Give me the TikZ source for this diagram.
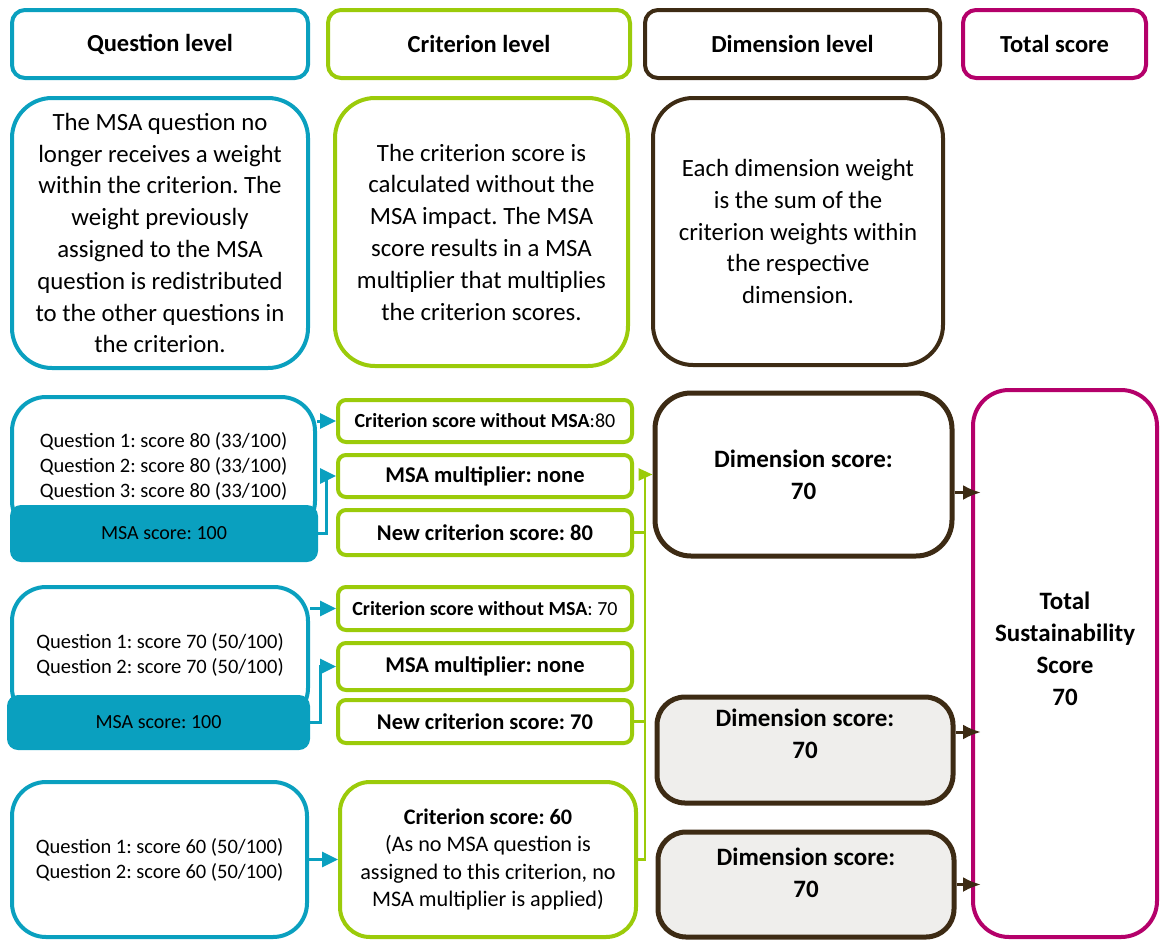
\documentclass[tikz,border=0pt]{standalone}
\usepackage{fontspec}
\setmainfont{Carlito}
\frenchspacing
\usetikzlibrary{arrows.meta, calc}
\definecolor{qcyan}{HTML}{0AA0BF}
\definecolor{cgreen}{HTML}{9BCB0A}
\definecolor{dbrown}{HTML}{3D2B14}
\definecolor{tmagenta}{HTML}{B4006A}
\definecolor{dgray}{HTML}{EFEEEC}

\tikzset{
    head/.style={draw, line width=4pt, rounded corners=13pt, minimum height=68pt,
        font=\fontsize{24.5}{28}\selectfont\bfseries},
    desc/.style={draw, line width=4pt, rounded corners=40pt, align=center,
        font=\fontsize{24.8}{31.8}\selectfont},
    qbox/.style={draw=qcyan, line width=4pt, rounded corners=34pt, align=center,
        font=\fontsize{20.5}{25}\selectfont},
    msabox/.style={fill=qcyan, rounded corners=11pt, font=\fontsize{20}{25}\selectfont},
    cbox/.style={draw=cgreen, line width=4pt, rounded corners=8pt, minimum width=294pt,
        font=\fontsize{22.5}{25}\selectfont\bfseries},
    dbox/.style={draw=dbrown, line width=5pt, rounded corners=28pt},
    dtext/.style={align=center, font=\fontsize{25}{32}\selectfont\bfseries},
    carrow/.style={qcyan, line width=3pt, -{Triangle[length=16pt, width=15pt]}},
    gline/.style={cgreen, line width=2.5pt},
    darrow/.style={dbrown, line width=3pt, -{Latex[length=18pt, width=15pt]}, shorten >=-10pt},
}

\begin{document}
\begin{tikzpicture}[x=1pt, y=-1pt]

    \useasboundingbox (0, 0) rectangle (1162, 940);

    \node[head, draw=qcyan, minimum width=296pt] (qh) at (160, 44) {Question level};
    \node[head, draw=cgreen, minimum width=302pt] (ch) at (479, 44) {Criterion level};
    \node[head, draw=dbrown, minimum width=295pt] (dh) at (792.5, 44) {Dimension level};
    \node[head, draw=tmagenta, minimum width=183pt] (th) at (1054.5, 44) {Total score};

    \node[desc, draw=qcyan, minimum width=296pt, minimum height=270pt] (qd) at (160, 233)
        {The MSA question no\\longer receives a weight\\within the criterion. The\\weight previously\\assigned to the MSA\\question is redistributed\\to the other questions in\\the criterion.};
    \node[desc, draw=cgreen, minimum width=293pt, minimum height=268pt] (cd) at (481.5, 232)
        {The criterion score is\\calculated without the\\MSA impact. The MSA\\score results in a MSA\\multiplier that multiplies\\the criterion scores.};
    \node[desc, draw=dbrown, minimum width=290pt, minimum height=267pt] (dd) at (798, 231.5)
        {Each dimension weight\\is the sum of the\\criterion weights within\\the respective\\dimension.};

    \node[qbox, minimum width=303pt, minimum height=138pt] (q1) at (163.5, 466)
        {Question 1: score 80 (33/100)\\Question 2: score 80 (33/100)\\Question 3: score 80 (33/100)};
    \node[msabox, minimum width=308pt, minimum height=57pt] (msa1) at (164, 533.5) {MSA score: 100};

    \node[qbox, minimum width=296pt, minimum height=135pt] (q2) at (160, 654.5)
        {Question 1: score 70 (50/100)\\Question 2: score 70 (50/100)};
    \node[msabox, minimum width=303pt, minimum height=55pt] (msa2) at (158.5, 722.5) {MSA score: 100};

    \node[qbox, minimum width=295pt, minimum height=155pt] (q3) at (159.5, 859.5)
        {Question 1: score 60 (50/100)\\Question 2: score 60 (50/100)};

    \node[cbox, minimum height=42pt] (w1) at (485, 421)
        {\fontsize{20}{25}\selectfont Criterion score without MSA\mdseries:80};
    \node[cbox, minimum height=42pt] (m1) at (485, 476) {MSA multiplier: none};
    \node[cbox, minimum height=45pt] (n1) at (485, 532.5) {New criterion score: 80};

    \node[cbox, minimum height=43pt] (w2) at (485, 608.5)
        {\fontsize{20}{25}\selectfont Criterion score without MSA\mdseries: 70};
    \node[cbox, minimum height=47pt] (m2) at (485, 666.5) {MSA multiplier: none};
    \node[cbox, minimum height=43pt] (n2) at (485, 721.5) {New criterion score: 70};

    \node[cbox, rounded corners=30pt, minimum width=296pt, minimum height=155pt, align=center,
        font=\fontsize{22.2}{27.5}\selectfont] (c3) at (488, 859.5)
        {\textbf{Criterion score: 60}\\(As no MSA question is\\assigned to this criterion, no\\MSA multiplier is applied)};

    \node[dbox, rounded corners=36pt, minimum width=297pt, minimum height=163pt] (dim1) at (803.5, 474.5) {};
    \node[dtext] (dim1t) at (dim1.center) {Dimension score:\\70};
    \node[dbox, fill=dgray, minimum width=296pt, minimum height=106pt] (dim2) at (805, 750) {};
    \node[dtext] (dim2t) at ([yshift=16pt]dim2.center) {Dimension score:\\70};
    \node[dbox, fill=dgray, minimum width=296pt, minimum height=105pt] (dim3) at (806, 884.5) {};
    \node[dtext] (dim3t) at ([yshift=12pt]dim3.center) {Dimension score:\\70};

    \node[draw=tmagenta, line width=4pt, rounded corners=36pt, minimum width=184pt,
        minimum height=547pt] (tot) at (1065, 663.5) {};
    \node[dtext] (tott) at ([yshift=15pt]tot.center) {Total\\Sustainability\\Score\\70};

    \draw[carrow] (w1.west -| q1.east) -- (w1.west);
    \draw[carrow] (msa1.east) -- ++(8, 0) |- (m1.west);
    \draw[carrow] (w2.west -| q2.east) -- (w2.west);
    \draw[carrow] (msa2.east) -- ++(10, 0) |- (m2.west);
    \draw[carrow] (q3.east) -- (c3.west);

    \coordinate (trunk) at (645, 858);
    \draw[gline, -{Triangle[length=14pt, width=12pt]}] (c3.east) -| (trunk |- dim1.west) -- (dim1.west);
    \draw[gline] (n1.east) -- (n1.east -| trunk);
    \draw[gline] (n2.east) -- (n2.east -| trunk);

    \draw[darrow] ([yshift=-18pt]dim1.east) -- ([yshift=-18pt]dim1.east -| tot.west);
    \draw[darrow] ([yshift=18pt]dim2.east) -- ([yshift=18pt]dim2.east -| tot.west);
    \draw[darrow] (dim3.east) -- (dim3.east -| tot.west);

\end{tikzpicture}
\end{document}
